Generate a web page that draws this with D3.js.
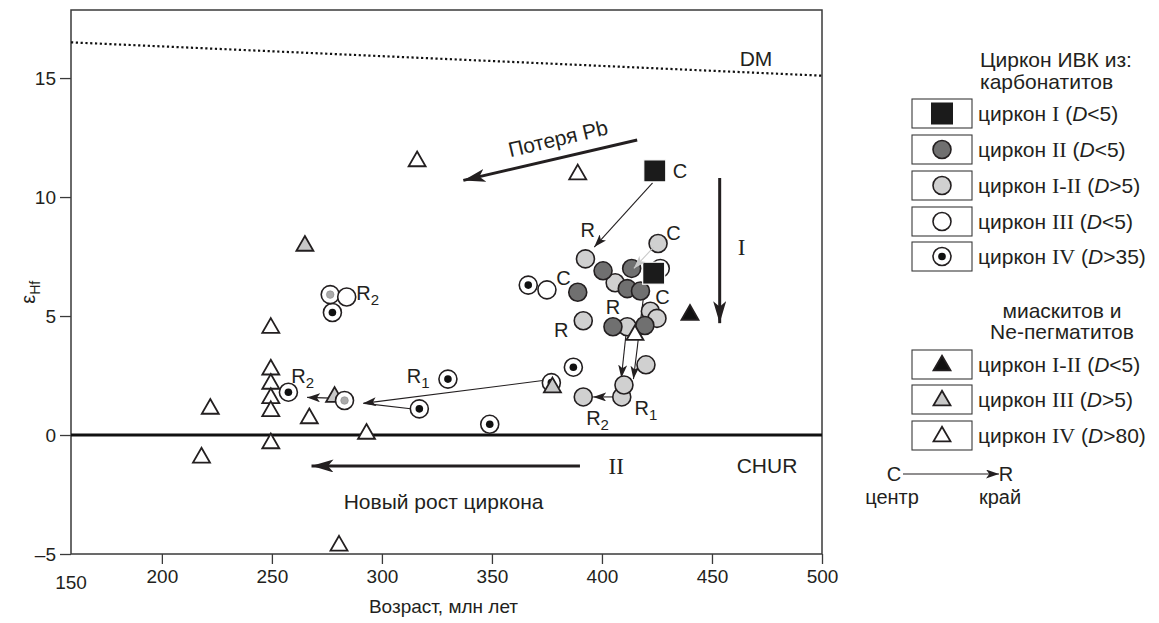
<!DOCTYPE html>
<html><head><meta charset="utf-8">
<script src="https://cdn.jsdelivr.net/npm/d3@7"></script>
<style>
body{margin:0;background:#fff}
svg{display:block}
text{font-family:"Liberation Sans",Arial,sans-serif;fill:#231f20}
.serif{font-family:"Liberation Serif","Times New Roman",serif}
</style>
</head><body><svg id="c" width="1159" height="623"></svg>
<script>
// ---------- data ----------
const xTicks = [200, 250, 300, 350, 400, 450, 500];
const xStartLabel = "150";
const yTicks = [-5, 0, 5, 10, 15];
const xDomain = [158.7, 500];
const yDomain = [-5, 17.86];

// carbonatite zircons [age, eHf]
const zirconI   = [[424, 11.1], [423.5, 6.8]];
const zirconII  = [[400.5, 6.9], [389, 6.0], [411.5, 6.15], [413.5, 7.0], [417.5, 6.05], [405, 4.55], [419.5, 4.6]];
const zirconI_II = [[392.5, 7.4], [406, 6.4], [425.5, 8.05], [422, 5.2], [425, 4.9], [411.5, 4.55], [391.5, 4.8], [420, 2.95], [409, 1.6], [410, 2.1], [391.5, 1.6]];
const zirconIII = [[426.5, 7.0], [284, 5.8], [375, 6.1]];
const zirconIV  = [[366.5, 6.3], [277.5, 5.15], [257.5, 1.8], [317, 1.1], [330, 2.35], [387, 2.85], [377, 2.2], [349, 0.45]];
const zirconIVgray = [[276.5, 5.9], [283, 1.45]];
// miaskite / Ne-pegmatite zircons
const miasI_II = [[440, 5.05]];
const miasIII  = [[265, 7.95], [278.5, 1.6], [377.5, 2.0]];
const miasIV   = [[249.5, 4.5], [249.5, 2.75], [249.5, 2.15], [249.5, 1.55], [249.5, 1.0], [249.5, -0.35],
                  [222, 1.1], [218, -0.95], [267, 0.7], [280.5, -4.65], [293, 0.05], [316, 11.5], [389, 10.95], [415, 4.2]];

// reference lines
const dmLine = [[158.7, 16.5], [500, 15.1]];
const churValue = 0;

// C -> R arrows (thin)
const crArrows = [
  [[423, 10.6], [396.5, 7.9]],
  [[411, 4.3], [408.8, 2.4]],
  [[418.8, 5.75], [414.3, 2.35]],
  [[407.5, 1.6], [396, 1.6]],
  [[374, 2.3], [291.5, 1.33]],
  [[277, 1.55], [266, 1.58]]
];
const crGreyArrow = [[423.5, 7.9], [414.5, 7.0]];
const crLines = [[[315, 1.08], [292, 1.33]]];

// big process arrows
const pbArrow = [[416, 12.4], [337, 10.7]];
const arrowI  = [[453.5, 10.8], [453.5, 4.7]];
const arrowII = [[390, -1.3], [268, -1.3]];

// labels [text, age, eHf, subscript]
const pointLabels = [
  ["C", 435.5, 11.1, ""], ["R", 393.5, 8.6, ""], ["C", 432.5, 8.5, ""], ["C", 382.5, 6.6, ""],
  ["C", 427.5, 5.8, ""], ["R", 405, 5.4, ""], ["R", 381.5, 4.4, ""],
  ["R", 420, 1.15, "1"], ["R", 398, 0.7, "2"], ["R", 316.5, 2.5, "1"], ["R", 264, 2.5, "2"], ["R", 293.5, 5.95, "2"]
];

const legendCarbNum  = ["I", "II", "I-II", "III", "IV"];
const legendCarbCond = ["<5", "<5", ">5", "<5", ">35"];
const legendMiasNum  = ["I-II", "III", "IV"];
const legendMiasCond = ["<5", ">5", ">80"];

// ---------- drawing ----------
const svg = d3.select("#c");
const L = 71, R = 822, T = 10, B = 554;
const x = d3.scaleLinear().domain(xDomain).range([L, R]);
const y = d3.scaleLinear().domain(yDomain).range([B, T]);

const defs = svg.append("defs");
function mk(id, w, h, col) {
  defs.append("marker").attr("id", id).attr("viewBox", `0 0 ${w} ${h}`)
    .attr("refX", w).attr("refY", h / 2).attr("markerWidth", w).attr("markerHeight", h)
    .attr("markerUnits", "userSpaceOnUse").attr("orient", "auto")
    .append("path").attr("d", `M0,0L${w},${h/2}L0,${h}L${w*0.25},${h/2}Z`).attr("fill", col);
}
mk("big", 22, 13, "#231f20");
mk("small", 13, 9, "#231f20");
mk("grey", 13, 9, "#c9c9c9");

// axes
const xAxis = svg.append("g").attr("transform", `translate(0,${B})`)
  .call(d3.axisBottom(x).tickValues(xTicks).tickSize(10).tickPadding(6));
xAxis.select(".domain").remove();
xAxis.selectAll("line").attr("stroke", "#3a3a3a").attr("stroke-width", 1.3);
xAxis.selectAll("text").style("font-size", "19px").attr("fill", "#231f20");
svg.append("text").attr("x", x(xDomain[0])).attr("y", B + 35).attr("text-anchor", "middle")
  .style("font-size", "19px").text(xStartLabel);

const yAxis = svg.append("g").attr("transform", `translate(${L},0)`)
  .call(d3.axisLeft(y).tickValues(yTicks).tickSize(11).tickPadding(4)
    .tickFormat(d => d < 0 ? "\u2013" + Math.abs(d) : d));
yAxis.select(".domain").remove();
yAxis.selectAll("line").attr("stroke", "#3a3a3a").attr("stroke-width", 1.3);
yAxis.selectAll("text").style("font-size", "19px").attr("fill", "#231f20");

svg.append("rect").attr("x", L).attr("y", T).attr("width", R - L).attr("height", B - T)
  .attr("fill", "none").attr("stroke", "#3a3a3a").attr("stroke-width", 1.5);

svg.append("text").attr("x", (L + R) / 2 - 3).attr("y", 613).attr("text-anchor", "middle")
  .style("font-size", "19px").text("Возраст, млн лет");
const yl = svg.append("text").attr("transform", `translate(35,${y(6)}) rotate(-90)`).attr("text-anchor", "middle")
  .style("font-size", "20px");
yl.append("tspan").text("ε");
yl.append("tspan").attr("dy", 5).style("font-size", "14px").text("Hf");

// reference lines
svg.append("line").attr("x1", L).attr("x2", R).attr("y1", y(churValue)).attr("y2", y(churValue))
  .attr("stroke", "#111").attr("stroke-width", 3);
svg.append("line").attr("x1", x(dmLine[0][0])).attr("y1", y(dmLine[0][1]))
  .attr("x2", x(dmLine[1][0])).attr("y2", y(dmLine[1][1]))
  .attr("stroke", "#111").attr("stroke-width", 2.2).attr("stroke-dasharray", "2.2,2.6");

svg.append("text").attr("x", x(470)).attr("y", y(15.8) + 7).attr("text-anchor", "middle").style("font-size", "21px").text("DM");
svg.append("text").attr("x", x(475)).attr("y", y(-1.3) + 7).attr("text-anchor", "middle").style("font-size", "21px").text("CHUR");

// big arrows
function bigArrow(a) {
  svg.append("line").attr("x1", x(a[0][0])).attr("y1", y(a[0][1])).attr("x2", x(a[1][0])).attr("y2", y(a[1][1]))
    .attr("stroke", "#231f20").attr("stroke-width", 3).attr("marker-end", "url(#big)");
}
bigArrow(pbArrow); bigArrow(arrowI); bigArrow(arrowII);
{
  const x1 = x(pbArrow[0][0]), y1 = y(pbArrow[0][1]), x2 = x(pbArrow[1][0]), y2 = y(pbArrow[1][1]);
  const ang = Math.atan2(y1 - y2, x1 - x2) * 180 / Math.PI;
  const cx = x1 + (x2 - x1) * 0.43, cy = y1 + (y2 - y1) * 0.43;
  svg.append("text").attr("transform", `translate(${cx},${cy}) rotate(${ang}) translate(0,-12)`)
    .attr("text-anchor", "middle").style("font-size", "21px").text("Потеря Pb");
}
svg.append("text").attr("class", "serif").attr("x", x(463.5)).attr("y", y(7.9) + 8).attr("text-anchor", "middle")
  .style("font-size", "23px").text("I");
svg.append("text").attr("class", "serif").attr("x", x(406.5)).attr("y", y(-1.3) + 8).attr("text-anchor", "middle")
  .style("font-size", "23px").text("II");
svg.append("text").attr("x", x(328)).attr("y", y(-2.8) + 7).attr("text-anchor", "middle")
  .style("font-size", "21px").text("Новый рост циркона");

// thin arrows
crLines.forEach(a => svg.append("line").attr("x1", x(a[0][0])).attr("y1", y(a[0][1])).attr("x2", x(a[1][0])).attr("y2", y(a[1][1]))
  .attr("stroke", "#231f20").attr("stroke-width", 1.1));
crArrows.forEach(a => svg.append("line").attr("x1", x(a[0][0])).attr("y1", y(a[0][1])).attr("x2", x(a[1][0])).attr("y2", y(a[1][1]))
  .attr("stroke", "#231f20").attr("stroke-width", 1.1).attr("marker-end", "url(#small)"));

// markers
const g = svg.append("g");
const SK = "#231f20";
function circles(data, fill) {
  g.selectAll(null).data(data).enter().append("circle")
    .attr("cx", d => x(d[0])).attr("cy", d => y(d[1])).attr("r", 9)
    .attr("fill", fill).attr("stroke", SK).attr("stroke-width", 1.6);
}
function dots(data, cfill) {
  const s = g.selectAll(null).data(data).enter().append("g")
    .attr("transform", d => `translate(${x(d[0])},${y(d[1])})`);
  s.append("circle").attr("r", 9).attr("fill", "#fff").attr("stroke", SK).attr("stroke-width", 1.6);
  s.append("circle").attr("r", 3.8).attr("fill", cfill).attr("stroke", cfill === "#111" ? "none" : "#888").attr("stroke-width", 0.6);
}
function squares(data) {
  g.selectAll(null).data(data).enter().append("rect")
    .attr("x", d => x(d[0]) - 11).attr("y", d => y(d[1]) - 11).attr("width", 22).attr("height", 22)
    .attr("fill", "#1b1b1b").attr("stroke", "#fff").attr("stroke-width", 1.2);
}
const tri = d3.symbol().type(d3.symbolTriangle).size(125);
function triangles(data, fill) {
  g.selectAll(null).data(data).enter().append("path").attr("d", tri)
    .attr("transform", d => `translate(${x(d[0])},${y(d[1])})`)
    .attr("fill", fill).attr("stroke", SK).attr("stroke-width", 1.8).attr("stroke-linejoin", "miter");
}
circles(zirconI_II.slice(0, 3), "#d0d0d0");
circles(zirconII.slice(0, 5), "#707070");
circles(zirconI_II.slice(3), "#d0d0d0");
circles(zirconII.slice(5), "#707070");
dots(zirconIV, "#111");
triangles(miasIV, "#fff");
triangles(miasIII, "#c8c8c8");
triangles(miasI_II, "#111");
dots(zirconIVgray, "#aaa");
circles(zirconIII, "#fff");
squares(zirconI);

// grey arrow over markers
svg.append("line").attr("x1", x(crGreyArrow[0][0])).attr("y1", y(crGreyArrow[0][1]))
  .attr("x2", x(crGreyArrow[1][0])).attr("y2", y(crGreyArrow[1][1]))
  .attr("stroke", "#c9c9c9").attr("stroke-width", 1.1).attr("marker-end", "url(#grey)");

// point labels
pointLabels.forEach(p => {
  const t = svg.append("text").attr("x", x(p[1])).attr("y", y(p[2]) + 7).attr("text-anchor", "middle").style("font-size", "20px");
  t.append("tspan").text(p[0]);
  if (p[3]) t.append("tspan").attr("dy", 5).style("font-size", "15px").text(p[3]);
});

// ---------- legend ----------
const LX = 912, BW = 60, BH = 29, TX = 978, FS = "21px";
svg.append("text").attr("x", 980).attr("y", 67).style("font-size", FS).text("Циркон ИВК из:");
svg.append("text").attr("x", 980).attr("y", 89).style("font-size", FS).text("карбонатитов");
svg.append("text").attr("x", 1062).attr("y", 318).attr("text-anchor", "middle").style("font-size", FS).text("миаскитов и");
svg.append("text").attr("x", 1062).attr("y", 339).attr("text-anchor", "middle").style("font-size", FS).text("Ne-пегматитов");

function legendRow(yTop, num, cond, drawMarker) {
  svg.append("rect").attr("x", LX).attr("y", yTop).attr("width", BW).attr("height", BH)
    .attr("fill", "#fff").attr("stroke", "#3a3a3a").attr("stroke-width", 1.1);
  const cx = LX + BW / 2, cy = yTop + BH / 2;
  drawMarker(cx, cy);
  const t = svg.append("text").attr("x", TX).attr("y", cy + 7).style("font-size", FS);
  t.append("tspan").text("циркон ");
  t.append("tspan").attr("class", "serif").style("font-family", "'Liberation Serif',serif").style("font-size", "22px").text(num);
  t.append("tspan").text(" (");
  t.append("tspan").style("font-style", "italic").text("D");
  t.append("tspan").text(cond + ")");
}
const carbMarkers = [
  (cx, cy) => svg.append("rect").attr("x", cx - 11).attr("y", cy - 11).attr("width", 22).attr("height", 22).attr("fill", "#1b1b1b"),
  (cx, cy) => svg.append("circle").attr("cx", cx).attr("cy", cy).attr("r", 9).attr("fill", "#707070").attr("stroke", SK).attr("stroke-width", 1.6),
  (cx, cy) => svg.append("circle").attr("cx", cx).attr("cy", cy).attr("r", 9).attr("fill", "#d0d0d0").attr("stroke", SK).attr("stroke-width", 1.6),
  (cx, cy) => svg.append("circle").attr("cx", cx).attr("cy", cy).attr("r", 9).attr("fill", "#fff").attr("stroke", SK).attr("stroke-width", 1.6),
  (cx, cy) => { svg.append("circle").attr("cx", cx).attr("cy", cy).attr("r", 9).attr("fill", "#fff").attr("stroke", SK).attr("stroke-width", 1.6);
                svg.append("circle").attr("cx", cx).attr("cy", cy).attr("r", 3.8).attr("fill", "#111"); }
];
const carbTops = [99, 135, 171, 207, 242];
legendCarbNum.forEach((n, i) => legendRow(carbTops[i], n, legendCarbCond[i], carbMarkers[i]));
const miasFills = ["#111", "#c8c8c8", "#fff"];
const miasTops = [350, 385, 421];
legendMiasNum.forEach((n, i) => legendRow(miasTops[i], n, legendMiasCond[i], (cx, cy) =>
  svg.append("path").attr("d", tri).attr("transform", `translate(${cx},${cy + 1})`).attr("fill", miasFills[i])
    .attr("stroke", SK).attr("stroke-width", 1.8)));

// C -> R key
svg.append("text").attr("x", 894).attr("y", 481).attr("text-anchor", "middle").style("font-size", "20px").text("C");
svg.append("line").attr("x1", 903).attr("x2", 999).attr("y1", 474).attr("y2", 474)
  .attr("stroke", "#231f20").attr("stroke-width", 1.1).attr("marker-end", "url(#small)");
svg.append("text").attr("x", 1006).attr("y", 481).attr("text-anchor", "middle").style("font-size", "20px").text("R");
svg.append("text").attr("x", 892).attr("y", 504).attr("text-anchor", "middle").style("font-size", "20px").text("центр");
svg.append("text").attr("x", 1000).attr("y", 504).attr("text-anchor", "middle").style("font-size", "20px").text("край");
</script>
</body></html>
